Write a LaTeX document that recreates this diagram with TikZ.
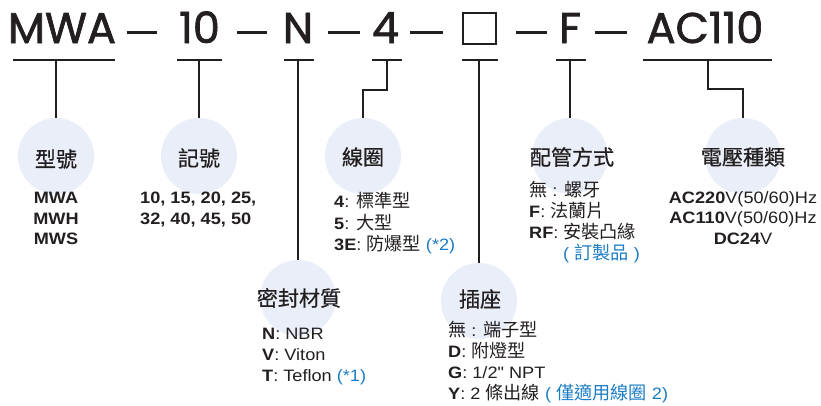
\documentclass[tikz,border=0pt]{standalone}
\usepackage{fontspec}
\setmainfont[FakeStretch=1.1]{Liberation Sans}
\newfontfamily\qfont[FakeStretch=1.1,Ligatures=ResetAll]{Liberation Sans}
\newfontfamily\cjk[Scale=1.1]{Noto Sans CJK TC}
\newfontfamily\cjkhead[Scale=1.08,UprightFeatures={FakeBold=0.6}]{Noto Sans CJK TC}
\newfontfamily\codefont[UprightFeatures={FakeBold=1.6}]{Poppins}
\newcommand\cj[1]{{\cjk #1}}
\definecolor{ink}{HTML}{231F20}
\definecolor{bub}{HTML}{E9EEF8}
\definecolor{blu}{HTML}{1B7DC4}
\newcommand\bl[1]{\textcolor{blu}{#1}}
\tikzset{
  code/.style={font=\fontsize{43}{46}\selectfont\codefont, text=ink, inner sep=0, anchor=base},
  sep/.style={line width=3pt, draw=ink},
  uline/.style={line width=1.2pt, draw=ink},
  conn/.style={line width=1.2pt, draw=ink},
  bubble/.style={circle, fill=bub, minimum size=76pt, inner sep=0},
  head/.style={font={\fontsize{19.5}{22}\selectfont\cjkhead}, text=ink, inner sep=0, anchor=center},
  lst/.style={font=\fontsize{16.5}{20}\selectfont, text=ink, inner sep=0, anchor=base west},
  lstc/.style={lst, anchor=base},
}
\begin{document}
\begin{tikzpicture}[x=1pt,y=-1pt]
\useasboundingbox (0,0) rectangle (821,405);
% code line
\node[code] (k1) at (62,43) {MWA};
\node[code] (k2) at (199.5,43) {10};
\node[code] (k3) at (298,43) {N};
\node[code] (k4) at (385.5,43) {4};
\node[draw=ink, line width=2.4pt, minimum width=33pt, minimum height=31pt, inner sep=0] (k5) at (479.5,28.5) {};
\node[code] (k6) at (570,43) {F};
\node[code] (k7) at (705,43) {AC110};
\draw[sep] (127,32) -- (157,32);
\draw[sep] (237,32) -- (267,32);
\draw[sep] (328,32) -- (360,32);
\draw[sep] (410,32) -- (443,32);
\draw[sep] (516,32) -- (547,32);
\draw[sep] (595,32) -- (627,32);
% underlines
\draw[uline] (13,60) -- (115,60);
\draw[uline] (177,60) -- (222,60);
\draw[uline] (284,60) -- (314,60);
\draw[uline] (372,60) -- (402,60);
\draw[uline] (462,60) -- (498,60);
\draw[uline] (556,60) -- (586,60);
\draw[uline] (643,60) -- (772,60);
\coordinate (u1) at (56,60);
\coordinate (u2) at (199,60);
\coordinate (u3) at (298,60);
\coordinate (u4) at (387,60);
\coordinate (u5) at (479,60);
\coordinate (u6) at (570,60);
\coordinate (u7) at (708,60);
% bubbles
\node[bubble] (c1) at (56,156) {};
\node[bubble] (c2) at (199,156) {};
\node[bubble] (c3) at (363,156) {};
\node[bubble] (c4) at (570,156) {};
\node[bubble] (c5) at (743,156) {};
\node[bubble] (c6) at (298,298) {};
\node[bubble] (c7) at (479,301) {};
% connectors
\draw[conn] (u1) -- (c1.north);
\draw[conn] (u2) -- (c2.north);
\draw[conn] (u3) -- (c6.north);
\draw[conn] (u4) -- ++(0,30) -| (c3.north);
\draw[conn] (u5) -- (c7.north);
\draw[conn] (u6) -- (c4.north);
\draw[conn] (u7) -- ++(0,29) -| (c5.north);
% headings
\node[head] (h1) at (56,159) {型號};
\node[head] (h2) at (199,158) {記號};
\node[head] (h3) at (363,157) {線圈};
\node[head] (h4) at (572,157) {配管方式};
\node[head] (h5) at (743,157) {電壓種類};
\node[head] (h6) at (299,298) {密封材質};
\node[head] (h7) at (480,299) {插座};
% lists
\node[lstc] (m1) at (56,203) {\bfseries MWA};
\node[lstc] (m2) at (56,224) {\bfseries MWH};
\node[lstc] (m3) at (56,244) {\bfseries MWS};
\node[lst] (n1) at (140,203) {\bfseries 10, 15, 20, 25,};
\node[lst] (n2) at (140,224) {\bfseries 32, 40, 45, 50};
\node[lst] (w1) at (334,207) {\textbf{4}: \cj{標準型}};
\node[lst] (w2) at (334,229) {\textbf{5}: \cj{大型}};
\node[lst] (w3) at (334,250) {\textbf{3E}: \cj{防爆型} \bl{(*2)}};
\node[lst] (p1) at (529,196) {\cj{無} : \cj{螺牙}};
\node[lst] (p2) at (529,217) {\textbf{F}: \cj{法蘭片}};
\node[lst] (p3) at (529,238) {\textbf{RF}: \cj{安裝凸緣}};
\node[lst] (p4) at (563,259) {\bl{( \cj{訂製品} )}};
\node[lstc] (v1) at (743,203) {\textbf{AC220}V(50/60)Hz};
\node[lstc] (v2) at (743,223) {\textbf{AC110}V(50/60)Hz};
\node[lstc] (v3) at (743,244) {\textbf{DC24}V};
\node[lst] (s1) at (262,339) {\textbf{N}: NBR};
\node[lst] (s2) at (262,360) {\textbf{V}: Viton};
\node[lst] (s3) at (262,381) {\textbf{T}: Teflon \bl{(*1)}};
\node[lst] (r1) at (448,336) {\cj{無} : \cj{端子型}};
\node[lst] (r2) at (448,357) {\textbf{D}: \cj{附燈型}};
\node[lst] (r3) at (448,378) {\textbf{G}: 1/2{\qfont"} NPT};
\node[lst] (r4) at (448,399) {\textbf{Y}: 2 \cj{條出線} \bl{( \cj{僅適用線圈} 2)}};
\end{tikzpicture}
\end{document}
